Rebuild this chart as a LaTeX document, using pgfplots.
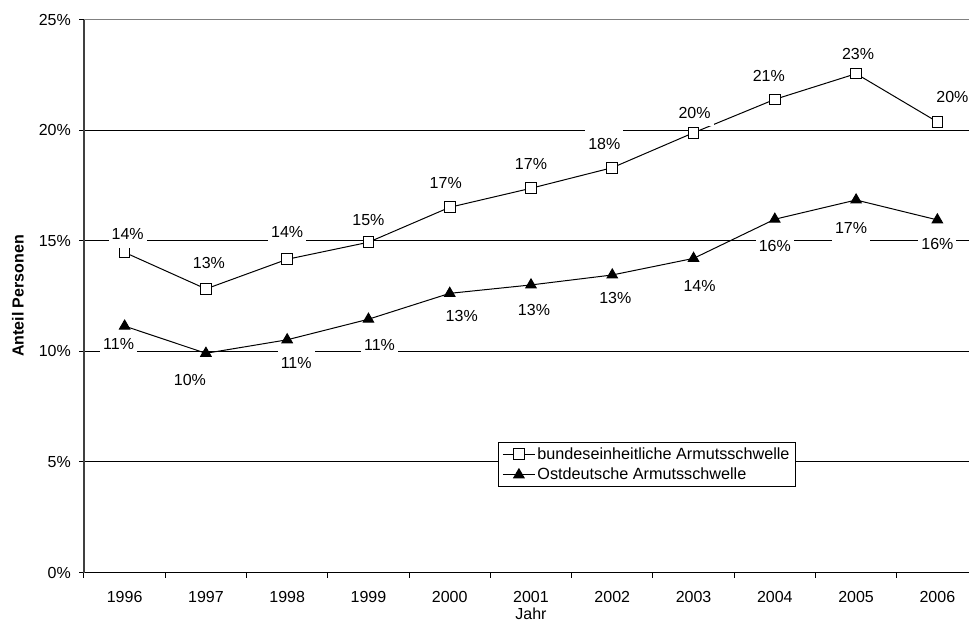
\documentclass[border=0pt]{standalone}
\usepackage{fontspec}
\setmainfont{Liberation Sans}
\usepackage{pgfplots}
\usepackage{pgfplotstable}
\pgfplotsset{compat=1.18}

% x = Jahr (0 = 1996), y = Anteil in %, lab = Beschriftung, dx/dy = Lage der Beschriftung
\pgfplotstableread{
x y     lab dx dy
0 14.47 14  3  18
1 12.82 13  3  26
2 14.16 14  0  27
3 14.93 15  0  22
4 16.51 17 -4  24
5 17.37 17  0  24
6 18.30 18 -8  24
7 19.88 20  1  20
8 21.39 21 -6  23
9 22.55 23  2  20
10 20.37 20 15 25
}\bund

\pgfplotstableread{
x y     lab dx dy
0 11.14 11 -6 -18
1  9.91 10 -16 -27
2 10.52 11  9 -23
3 11.45 11 11 -26
4 12.62 13 12 -23
5 13.00 13  3 -25
6 13.45 13  3 -23
7 14.20 14  6 -28
8 15.97 16  0 -27
9 16.84 17 -5 -28
10 15.94 16  0 -24
}\ost

\begin{document}
\begin{tikzpicture}[font=\fontsize{16}{19}\selectfont]
\begin{axis}[
  at={(0pt,0pt)}, anchor=south west,
  scale only axis,
  width=894pt, height=553pt,
  xmin=-0.5, xmax=10.5,
  ymin=0, ymax=25,
  axis x line=bottom, axis y line=left,
  axis line style={line width=1pt, -},
  y axis line style={black!75, line width=1.2pt},
  clip=false,
  tick align=outside,
  xtick={0,...,10},
  xticklabels={1996,1997,1998,1999,2000,2001,2002,2003,2004,2005,2006},
  major x tick style={draw=none},
  minor xtick={-0.5,0.5,...,10.5},
  minor tick length=5pt,
  major tick length=5pt,
  tick style={black, line width=1pt},
  ytick={0,5,10,15,20},
  yticklabels={0\%,5\%,10\%,15\%,20\%},
  extra y ticks={25},
  extra y tick labels={25\%},
  extra y tick style={grid style={gray, line width=1pt}},
  ymajorgrids,
  grid style={black, line width=1pt},
  /pgf/number format/assume math mode=true,
  every tick label/.append style={font=\fontsize{16}{19}\selectfont},
  yticklabel style={anchor=east, inner sep=0pt, xshift=-8pt},
  xticklabel style={anchor=north, inner sep=0pt, yshift=-14pt},
  xlabel={Jahr},
  ylabel={\bfseries Anteil Personen},
  xlabel style={at={([yshift=-35.5pt]axis description cs:0.5,0)}, anchor=north, inner sep=0pt},
  ylabel style={at={([xshift=-66pt]axis description cs:0,0.5)}, anchor=center, inner sep=0pt, rotate=0},
  legend style={at={(0.463,0.236)}, anchor=north west, draw=black, line width=1pt,
    fill=white, font=\fontsize{16.2}{19}\selectfont, inner xsep=4pt, inner ysep=3pt,
    row sep=3.5pt, cells={anchor=west}},
  legend image code/.code={\draw[mark repeat=2, mark phase=2, #1]
    plot coordinates {(0pt,0pt) (16pt,0pt) (32pt,0pt)};},
  nodes near coords={\pgfplotspointmeta\%},
  point meta=explicit symbolic,
  visualization depends on={\thisrow{dx}\as\dx},
  visualization depends on={\thisrow{dy}\as\dy},
  every node near coord/.append style={anchor=center, xshift=\dx pt, yshift=\dy pt,
    fill=white, inner xsep=3pt, inner ysep=0pt, minimum height=27pt,
    font=\fontsize{16}{19}\selectfont, text=black},
]
\addplot[black, line width=1pt, mark=square*, mark size=5.3pt,
  mark options={fill=white, draw=black, line width=1pt}]
  table[x=x, y=y, meta=lab] {\bund};
\addlegendentry{bundeseinheitliche Armutsschwelle}
\addplot[black, line width=1pt, mark=triangle*, mark size=6pt,
  mark options={fill=black, draw=black}]
  table[x=x, y=y, meta=lab] {\ost};
\addlegendentry{Ostdeutsche Armutsschwelle}
\end{axis}
\pgfresetboundingbox
\useasboundingbox (-84pt,-51.5pt) rectangle (885pt,572.5pt);
\end{tikzpicture}
\end{document}
